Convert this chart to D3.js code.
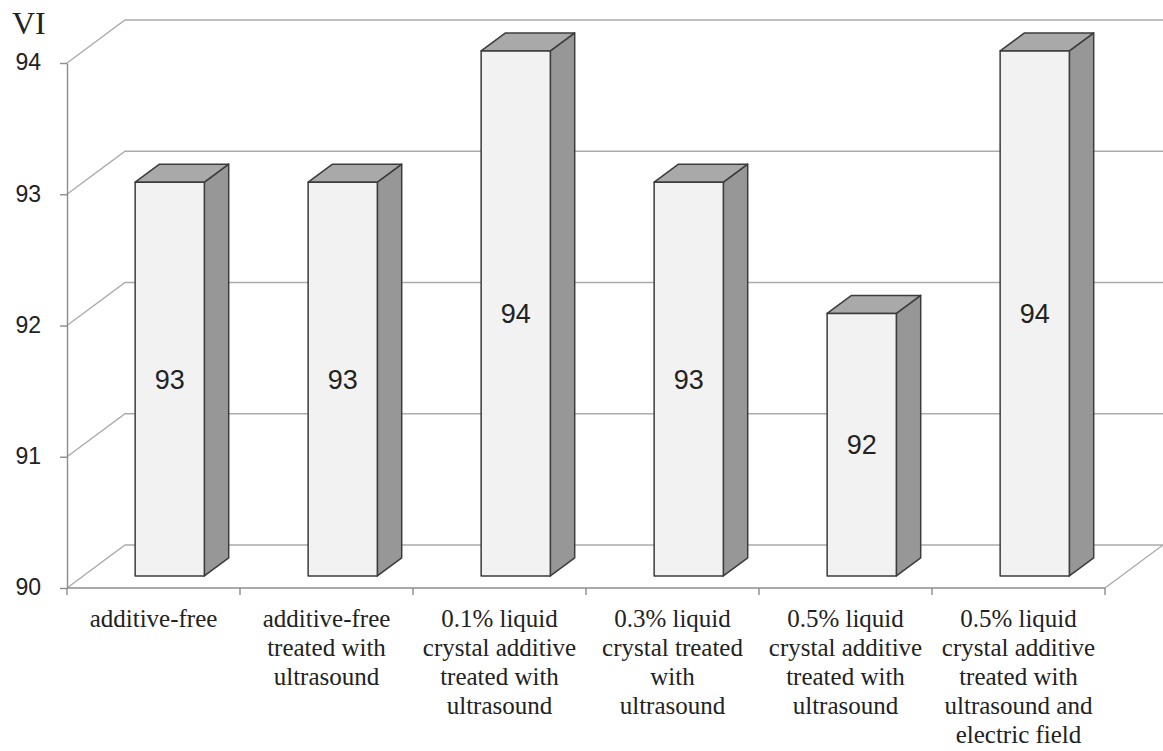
<!DOCTYPE html>
<html>
<head>
<meta charset="utf-8">
<script src="https://cdn.jsdelivr.net/npm/d3@7"></script>
<style>
  html, body { margin: 0; padding: 0; background: #fff; }
  svg { display: block; }
</style>
</head>
<body>
<svg id="chart" width="1163" height="751"></svg>
<script>
// Viscosity index of the oil samples
const categories = [
  "additive-free",
  "additive-free treated with ultrasound",
  "0.1% liquid crystal additive treated with ultrasound",
  "0.3% liquid crystal treated with ultrasound",
  "0.5% liquid crystal additive treated with ultrasound",
  "0.5% liquid crystal additive treated with ultrasound and electric field"
];
const categoryLines = [
  ["additive-free"],
  ["additive-free", "treated with", "ultrasound"],
  ["0.1% liquid", "crystal additive", "treated with", "ultrasound"],
  ["0.3% liquid", "crystal treated", "with", "ultrasound"],
  ["0.5% liquid", "crystal additive", "treated with", "ultrasound"],
  ["0.5% liquid", "crystal additive", "treated with", "ultrasound and", "electric field"]
];
const values = [93, 93, 94, 93, 92, 94];
const yTicks = [90, 91, 92, 93, 94];
const yTitle = "VI";

(function draw() {
  const svg = d3.select("#chart");

  // front plane of the 3-D plot box
  const plotLeft = 67, plotRight = 1105, plotTop = 63, plotBottom = 588;
  // full depth of the box (oblique projection)
  const depthX = 58, depthY = -43;
  // bars occupy this slice of the depth
  const barFront = 0.28, barBack = 0.70;
  const barWidthRatio = 0.4;

  const y = d3.scaleLinear().domain([90, 94]).range([plotBottom, plotTop]);
  const x = d3.scaleBand().domain(d3.range(categories.length)).range([plotLeft, plotRight]).padding(0);

  const P = (px, py, d) => [px + depthX * d, py + depthY * d];
  const line = pts => "M" + pts.map(p => p.join(",")).join("L");

  const gridColor = "#ababab";
  const axisColor = "#8c8c8c";

  // wall gridlines (left wall diagonal + back wall horizontal)
  const grid = svg.append("g").attr("fill", "none").attr("stroke", gridColor).attr("stroke-width", 1.4);
  yTicks.forEach(v => {
    const yy = y(v);
    const pts = [[plotLeft, yy], P(plotLeft, yy, 1), [plotRight + depthX, yy + depthY]];
    if (v === yTicks[0]) pts.push([plotRight, yy]); // floor closes on the right
    grid.append("path").attr("d", line(pts));
  });

  // y axis
  const yAxis = svg.append("g")
    .attr("transform", `translate(${plotLeft},0)`)
    .call(d3.axisLeft(y).tickValues(yTicks).tickSize(7).tickSizeOuter(0).tickPadding(19).tickFormat(d3.format("d")));
  yAxis.select(".domain").attr("stroke", axisColor).attr("stroke-width", 1.4);
  yAxis.selectAll(".tick line").attr("stroke", axisColor).attr("stroke-width", 1.4);
  yAxis.selectAll(".tick text")
    .attr("font-family", "'Liberation Sans', Arial, sans-serif")
    .attr("font-size", 23)
    .attr("fill", "#222")
    .attr("dy", "0.3em");

  // y title
  svg.append("text")
    .attr("x", 12).attr("y", 34)
    .attr("font-family", "'Liberation Serif', 'Times New Roman', serif")
    .attr("font-size", 32)
    .attr("fill", "#222")
    .text(yTitle);

  // x axis (ticks on category boundaries)
  const xAxis = svg.append("g").attr("stroke", axisColor).attr("stroke-width", 1.4);
  xAxis.append("path").attr("d", line([[plotLeft, plotBottom], [plotRight, plotBottom]]));
  d3.range(categories.length + 1).forEach(i => {
    const xx = plotLeft + i * x.step();
    xAxis.append("path").attr("d", line([[xx, plotBottom], [xx, plotBottom + 7]]));
  });

  // category labels
  const catG = svg.append("g")
    .attr("font-family", "'Liberation Serif', 'Times New Roman', serif")
    .attr("font-size", 25)
    .attr("fill", "#222")
    .attr("text-anchor", "middle");
  categoryLines.forEach((lines, i) => {
    const cx = x(i) + x.bandwidth() / 2;
    const t = catG.append("text").attr("x", cx).attr("y", 627);
    lines.forEach((s, k) => {
      t.append("tspan").attr("x", cx).attr("dy", k === 0 ? 0 : 29).text(s);
    });
  });

  // 3-D bars
  const bw = x.bandwidth() * barWidthRatio;
  const bars = svg.append("g").attr("stroke", "#3c3c3c").attr("stroke-width", 1.5).attr("stroke-linejoin", "round");
  const labels = svg.append("g")
    .attr("text-anchor", "middle")
    .attr("font-family", "'Liberation Sans', Arial, sans-serif")
    .attr("font-size", 27)
    .attr("fill", "#222");
  values.forEach((v, i) => {
    const cx = x(i) + x.bandwidth() / 2;
    const x0 = cx - bw / 2, x1 = cx + bw / 2;
    const yt = y(v), yb = y(90);
    const fTL = P(x0, yt, barFront), fTR = P(x1, yt, barFront);
    const fBL = P(x0, yb, barFront), fBR = P(x1, yb, barFront);
    const bTL = P(x0, yt, barBack), bTR = P(x1, yt, barBack), bBR = P(x1, yb, barBack);
    const g = bars.append("g");
    g.append("path").attr("d", line([fTR, bTR, bBR, fBR]) + "Z").attr("fill", "#979797");
    g.append("path").attr("d", line([fTL, bTL, bTR, fTR]) + "Z").attr("fill", "#a9a9a9");
    g.append("path").attr("d", line([fTL, fTR, fBR, fBL]) + "Z").attr("fill", "#f2f2f2");
    // value label
    labels.append("text")
      .attr("x", (fTL[0] + fTR[0]) / 2)
      .attr("y", (fTL[1] + fBL[1]) / 2)
      .attr("dy", "0.35em")
      .text(v);
  });
})();
</script>
</body>
</html>
